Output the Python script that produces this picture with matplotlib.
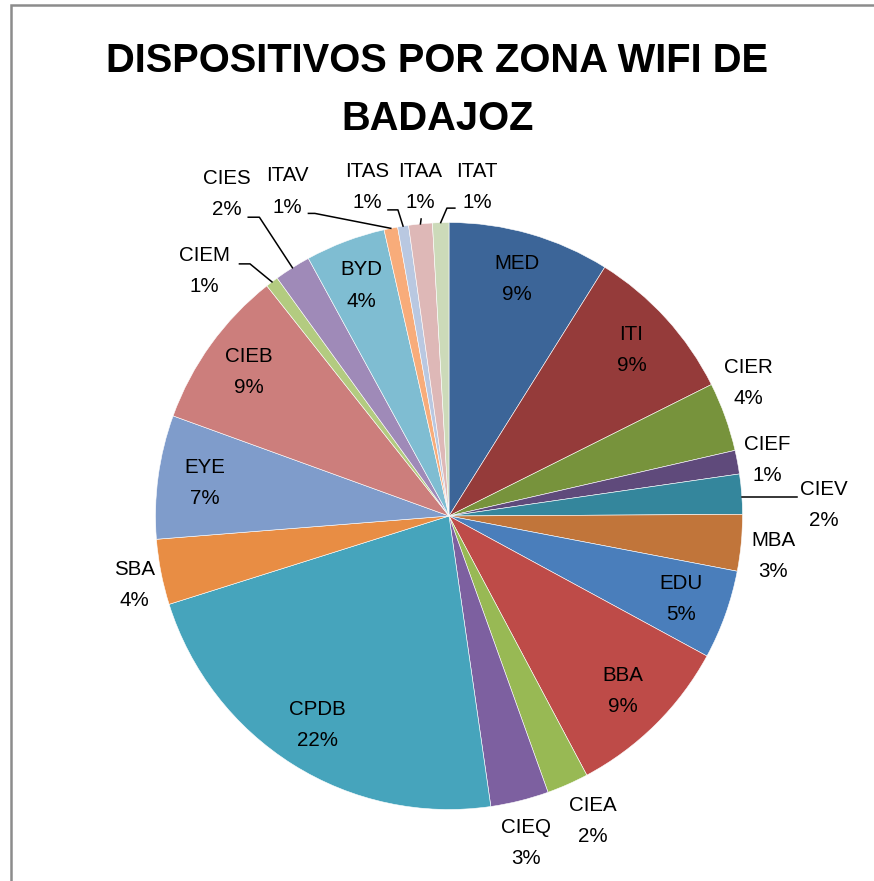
import numpy as np
import matplotlib.pyplot as plt
from matplotlib.patches import Rectangle

# slice shares (% of devices), clockwise from 12 o'clock
zones = ["MED", "ITI", "CIER", "CIEF", "CIEV", "MBA", "EDU", "BBA", "CIEA",
         "CIEQ", "CPDB", "SBA", "EYE", "CIEB", "CIEM", "CIES", "BYD",
         "ITAV", "ITAS", "ITAA", "ITAT"]
shares = [8.9, 8.7, 3.8, 1.3, 2.2, 3.1, 4.9, 9.3, 2.3,
          3.2, 22.4, 3.6, 6.8, 8.8, 0.7, 2.0, 4.4,
          0.75, 0.6, 1.3, 0.9]
colors = ["#3C6598", "#953B3A", "#77933C", "#5F4A7B", "#34869C", "#C1753A",
          "#4A7EBB", "#BE4B48", "#98B954", "#7D60A0", "#46A4BC", "#E88D44",
          "#7F9CCB", "#CC7E7C", "#B3CB80", "#9F8AB8", "#7FBDD2", "#F8AC7A",
          "#B9C8E1", "#DEB8B7", "#CCDAB9"]
title = "DISPOSITIVOS POR ZONA WIFI DE\nBADAJOZ"

# labels drawn inside the slice (along the middle angle)
inside = ["MED", "ITI", "EDU", "BBA", "CPDB", "EYE", "CIEB", "BYD"]
# outside label centres, in pie radius units
outside_pos = {"CIER": (1.019, 0.453), "CIEF": (1.083, 0.191),
               "CIEV": (1.278, 0.037), "MBA": (1.104, -0.136),
               "CIEA": (0.491, -1.039), "CIEQ": (0.262, -1.114),
               "SBA": (-1.073, -0.235), "CIEM": (-0.832, 0.835),
               "CIES": (-0.756, 1.097), "ITAV": (-0.552, 1.106),
               "ITAS": (-0.278, 1.121), "ITAA": (-0.099, 1.121),
               "ITAT": (0.095, 1.121)}
# leader lines: start point and elbow (end is the slice edge)
leaders = {"CIEV": [(1.185, 0.066)],
           "CIEM": [(-0.714, 0.859), (-0.678, 0.859)],
           "CIES": [(-0.684, 1.018), (-0.646, 1.018)],
           "ITAV": [(-0.479, 1.031), (-0.457, 1.031)],
           "ITAS": [(-0.208, 1.043), (-0.174, 1.043)],
           "ITAA": [(-0.095, 1.012)],
           "ITAT": [(0.020, 1.049), (-0.007, 1.049)]}

W, H = 874, 881
cx, cy, R = 449, 516, 293.5

fig = plt.figure(figsize=(W / 100, H / 100), dpi=100)
ax = fig.add_axes([0, 0, 1, 1])

fig.patches.append(Rectangle((10.5 / W, -0.1), 1.2, 1.1 - 5.5 / H,
                             transform=fig.transFigure, fill=False,
                             edgecolor="#8C8C8C", linewidth=1.8))

wedges, _ = ax.pie(shares, colors=colors, startangle=90, counterclock=False,
                   radius=1.0, center=(0, 0), frame=True,
                   wedgeprops=dict(edgecolor="white", linewidth=0.4))
ax.set_xlim(-cx / R, (W - cx) / R)
ax.set_ylim(-(H - cy) / R, cy / R)
ax.axis("off")

total = sum(shares)
lab_font = dict(family=["Liberation Sans", "DejaVu Sans"], fontsize=14.8,
                color="black", ha="center", va="center", linespacing=1.83)
for w, name, val in zip(wedges, zones, shares):
    pct = "{:.0f}%".format(val / total * 100)
    mid = np.deg2rad((w.theta1 + w.theta2) / 2)
    if name in inside:
        x, y = 0.84 * np.cos(mid), 0.84 * np.sin(mid)
    else:
        x, y = outside_pos[name]
    ax.text(x, y, name + "\n" + pct, **lab_font)
    if name in leaders:
        pts = leaders[name] + [(np.cos(mid), np.sin(mid))]
        if name == "CIEV":
            pts = [leaders[name][0], (np.cos(mid), leaders[name][0][1])]
        xs, ys = zip(*pts)
        ax.plot(xs, ys, color="black", linewidth=1.1)

fig.text(0.5 + 0.5 / W, 1 - 90 / H, title, ha="center", va="center",
         family=["Liberation Sans", "DejaVu Sans"],
         fontweight="bold", fontsize=28.7, linespacing=1.65)

fig.savefig("out.png", dpi=100)
